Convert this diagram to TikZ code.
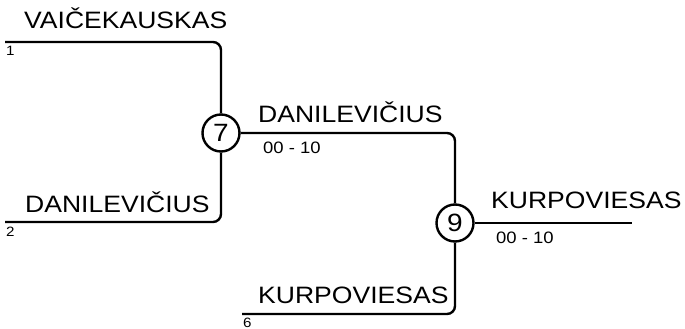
\documentclass[tikz,border=0pt]{standalone}
\usepackage{fontspec}
\setmainfont[FakeStretch=1.12]{Liberation Sans}
\usetikzlibrary{positioning}

\begin{document}
\begin{tikzpicture}[x=1pt, y=-1pt, line width=2.4pt,
    player/.style={anchor=base west, inner sep=0pt, font=\fontsize{23.7}{28}\selectfont},
    seed/.style={anchor=north west, inner sep=0pt, font=\fontsize{13.5}{16}\selectfont},
    score/.style={anchor=base west, inner sep=0pt, font=\fontsize{16.5}{19}\selectfont},
    match/.style={circle, draw, fill=white, minimum size=37pt, inner sep=0pt, font=\fontsize{25}{29}\selectfont},
    link/.style={rounded corners=8pt}]
  \useasboundingbox (0,0) rectangle (685,329);

  % matches
  \node[match] (m7) at (221,133) {7};
  \node[match] (m9) at (455,223) {9};

  % line starts (x positions)
  \coordinate (s1) at (5,42);
  \coordinate (s2) at (5,222);
  \coordinate (s6) at (242,314);
  \coordinate (e9) at (632,223);

  % round one
  \draw[link] (s1) -| (m7);
  \draw[link] (s2) -| (m7);
  \draw[link] (s6) -| (m9);

  % winners
  \draw[link] (m7) -| (m9);
  \draw (m9) -- (e9);

  % names
  \node[player] (n1) at (23,29) {VAIČEKAUSKAS};
  \node[player] (n2) at (24,212) {DANILEVIČIUS};
  \node[player] (n6) at (257,303) {KURPOVIESAS};
  \node[player] (w7) at (257,122) {DANILEVIČIUS};
  \node[player] (w9) at (490,208) {KURPOVIESAS};

  % seeds
  \node[seed] (k1) at (5,45) {1};
  \node[seed] (k2) at (5,226) {2};
  \node[seed] (k6) at (242,317) {6};

  % scores
  \node[score] (r7) at (262,153) {00 - 10};
  \node[score] (r9) at (495,243) {00 - 10};
\end{tikzpicture}
\end{document}
